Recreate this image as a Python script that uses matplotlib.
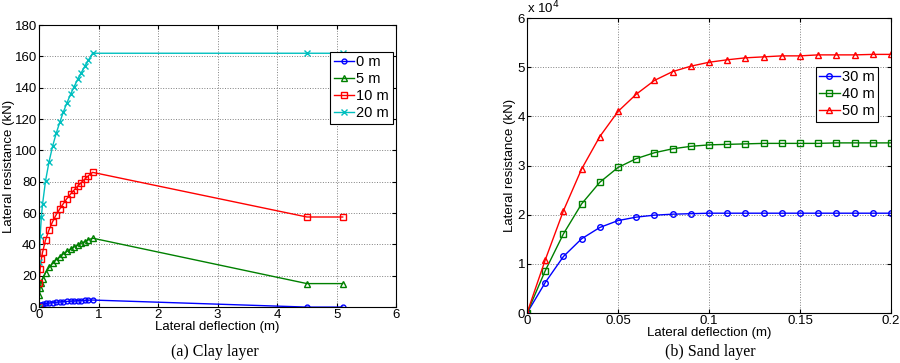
import numpy as np
import matplotlib.pyplot as plt

plt.rcParams['font.family'] = 'Liberation Sans'

# clay layer, lateral deflection (m) vs lateral resistance (kN)
clay_x = [0, 0.005, 0.02, 0.04, 0.06, 0.11, 0.17, 0.23, 0.29, 0.35, 0.41,
          0.47, 0.53, 0.59, 0.65, 0.71, 0.77, 0.83, 0.9, 4.5, 5.1]
clay_0m = [0, 0.8, 1.3, 1.6, 1.8, 2.3, 2.6, 2.9, 3.1, 3.3, 3.5,
           3.6, 3.8, 3.9, 4.1, 4.2, 4.3, 4.4, 4.5, 0, 0]
clay_5m = [0, 7.8, 12.4, 15.6, 17.9, 21.9, 25.3, 28.0, 30.2, 32.1, 33.9,
           35.5, 36.9, 38.3, 39.5, 40.7, 41.8, 42.9, 44.0, 15.0, 15.0]
clay_10m = [0, 15.2, 24.2, 30.5, 34.9, 42.8, 49.4, 54.6, 59.0, 62.7, 66.1,
            69.3, 72.1, 74.7, 77.2, 79.5, 81.7, 83.8, 86.0, 57.5, 57.5]
clay_20m = [0, 28.7, 45.5, 57.4, 65.7, 80.5, 92.9, 102.8, 111.0, 118.0, 124.6,
            130.4, 135.7, 140.7, 145.3, 149.6, 153.7, 157.6, 162.0, 162.0, 162.0]

# sand layer
sand_x = [0, 0.01, 0.02, 0.03, 0.04, 0.05, 0.06, 0.07, 0.08, 0.09, 0.10,
          0.11, 0.12, 0.13, 0.14, 0.15, 0.16, 0.17, 0.18, 0.19, 0.20]
sand_30m = [0, 6200, 11500, 15100, 17400, 18800, 19500, 19900, 20100, 20200, 20300,
            20300, 20300, 20300, 20300, 20300, 20300, 20300, 20300, 20300, 20300]
sand_40m = [0, 8600, 16100, 22200, 26600, 29600, 31400, 32600, 33400, 33900, 34200,
            34300, 34400, 34500, 34500, 34500, 34500, 34600, 34600, 34600, 34600]
sand_50m = [0, 10800, 20800, 29300, 35900, 41000, 44500, 47300, 49100, 50200, 51000,
            51500, 51900, 52100, 52300, 52300, 52500, 52500, 52500, 52600, 52600]

blue = (0, 0, 1)
green = (0, 0.5, 0)
red = (1, 0, 0)
cyan = (0, 0.75, 0.75)

fig = plt.figure(figsize=(9, 3.63), dpi=100)
ax1 = fig.add_axes([0.0433, 0.154, 0.397, 0.777])
ax2 = fig.add_axes([0.5856, 0.1377, 0.4044, 0.8127])

fs = 9.5
ms = 4
lw = 1
ax1.plot(clay_x, clay_0m, '-o', color=blue, mfc='none', ms=3.5, lw=lw, label='0 m')
ax1.plot(clay_x, clay_5m, '-^', color=green, mfc='none', ms=ms, lw=lw, label='5 m')
ax1.plot(clay_x, clay_10m, '-s', color=red, mfc='none', ms=ms, lw=lw, label='10 m')
ax1.plot(clay_x, clay_20m, '-x', color=cyan, ms=ms, lw=lw, label='20 m')
ax1.set_xlim(0, 6)
ax1.set_ylim(0, 180)
ax1.set_yticks(np.arange(0, 181, 20))
ax1.set_xlabel('Lateral deflection (m)', fontsize=fs, labelpad=0)
ax1.set_ylabel('Lateral resistance (kN)', fontsize=fs, labelpad=0)
leg1 = ax1.legend(loc='upper right', bbox_to_anchor=(0.99, 0.905), fontsize=10.5,
                  fancybox=False, edgecolor='black', framealpha=1,
                  handlelength=1.4, handletextpad=0.15, labelspacing=0.2,
                  borderpad=0.25, borderaxespad=0)
leg1.get_frame().set_linewidth(0.8)

ax2.plot(sand_x, np.array(sand_30m) / 1e4, '-o', color=blue, mfc='none', ms=ms, lw=lw, label='30 m')
ax2.plot(sand_x, np.array(sand_40m) / 1e4, '-s', color=green, mfc='none', ms=ms, lw=lw, label='40 m')
ax2.plot(sand_x, np.array(sand_50m) / 1e4, '-^', color=red, mfc='none', ms=ms, lw=lw, label='50 m')
ax2.set_xlim(0, 0.2)
ax2.set_ylim(0, 6)
ax2.set_xticks([0, 0.05, 0.1, 0.15, 0.2])
ax2.set_xticklabels(['0', '0.05', '0.1', '0.15', '0.2'])
ax2.set_xlabel('Lateral deflection (m)', fontsize=fs, labelpad=0)
ax2.set_ylabel('Lateral resistance (kN)', fontsize=fs, labelpad=1)
ax2.text(0.0, 1.005, 'x 10$^4$', transform=ax2.transAxes, fontsize=fs, va='bottom', ha='left')
leg2 = ax2.legend(loc='upper right', bbox_to_anchor=(0.965, 0.835), fontsize=10.5,
                  fancybox=False, edgecolor='black', framealpha=1,
                  handlelength=1.4, handletextpad=0.15, labelspacing=0.2,
                  borderpad=0.25, borderaxespad=0)
leg2.get_frame().set_linewidth(0.8)

for ax in (ax1, ax2):
    ax.grid(True, linestyle=':', color='gray', linewidth=0.7)
    ax.tick_params(direction='in', top=True, right=True, labelsize=fs, length=3, pad=1.5)
    for sp in ax.spines.values():
        sp.set_linewidth(0.8)

fig.text(0.239, 0.02, '(a) Clay layer', fontsize=11.5, family='Liberation Serif', ha='center')
fig.text(0.789, 0.02, '(b) Sand layer', fontsize=11.5, family='Liberation Serif', ha='center')

fig.savefig('out.png', dpi=100)
